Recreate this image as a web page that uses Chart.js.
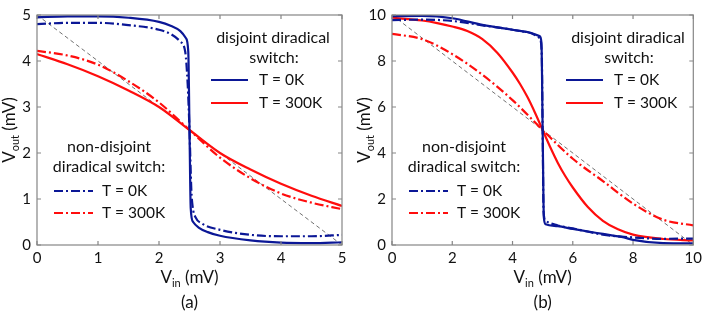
<!DOCTYPE html>
<html>
<head>
<meta charset="utf-8">
<script src="https://cdn.jsdelivr.net/npm/chart.js@4/dist/chart.umd.min.js"></script>
<style>
  body { margin: 0; background: #fff; }
  #wrap { position: relative; width: 706px; height: 314px; }
  .cell { position: absolute; top: 0; width: 353px; height: 314px; }
</style>
</head>
<body>
<div id="wrap">
  <div class="cell" style="left:0"><canvas id="chartA" width="353" height="314"></canvas></div>
  <div class="cell" style="left:353px"><canvas id="chartB" width="353" height="314"></canvas></div>
</div>
<script>
// ---- panel (a): 5 mV supply ----
const A_TICKS = [0, 1, 2, 3, 4, 5];
const A_DIS0_X = [0, 0.5, 1, 1.5, 2, 2.2, 2.35, 2.44, 2.48, 2.5, 2.52, 2.56, 2.65, 2.8, 3, 3.5, 4, 4.5, 5];
const A_DIS0_Y = [4.95, 4.97, 4.97, 4.94, 4.85, 4.76, 4.65, 4.5, 4.2, 2.5, 0.8, 0.5, 0.38, 0.28, 0.2, 0.1, 0.05, 0.04, 0.06];
const A_DIS300_X = [0, 0.5, 1, 1.5, 2, 2.5, 3, 3.5, 4, 4.5, 5];
const A_DIS300_Y = [4.15, 3.93, 3.67, 3.36, 3.0, 2.5, 2.0, 1.64, 1.33, 1.07, 0.85];
const A_NON0_X = [0, 0.5, 1, 1.5, 2, 2.2, 2.35, 2.43, 2.47, 2.5, 2.53, 2.55, 2.6, 2.7, 3, 3.5, 4, 4.5, 5];
const A_NON0_Y = [4.8, 4.83, 4.83, 4.78, 4.68, 4.58, 4.42, 4.2, 3.5, 2.5, 1.2, 0.85, 0.6, 0.47, 0.33, 0.22, 0.19, 0.19, 0.22];
const A_NON300_X = [0, 0.5, 1, 1.5, 2, 2.5, 3, 3.5, 4, 4.5, 5];
const A_NON300_Y = [4.22, 4.12, 3.92, 3.56, 3.1, 2.5, 1.9, 1.45, 1.12, 0.92, 0.78];
const A_GUIDE_X = [0, 5];
const A_GUIDE_Y = [5, 0];

// ---- panel (b): 10 mV supply ----
const B_TICKS = [0, 2, 4, 6, 8, 10];
const B_DIS0_X = [0, 1, 2, 3, 4, 4.5, 4.9, 4.96, 5, 5.04, 5.1, 5.5, 6, 7, 7.7, 8, 9, 10];
const B_DIS0_Y = [9.95, 9.96, 9.86, 9.57, 9.36, 9.26, 9.08, 8.8, 5, 1.2, 0.9, 0.82, 0.7, 0.48, 0.33, 0.22, 0.08, 0.07];
const B_DIS300_X = [0, 1, 1.5, 2, 2.5, 3, 3.5, 4, 4.25, 4.5, 4.75, 5, 5.25, 5.5, 5.75, 6, 6.5, 7, 7.5, 8, 9, 10];
const B_DIS300_Y = [9.88, 9.76, 9.65, 9.5, 9.3, 8.95, 8.35, 7.5, 7.0, 6.42, 5.74, 5, 4.26, 3.58, 3.0, 2.5, 1.65, 1.05, 0.68, 0.45, 0.26, 0.2];
const B_NON0_X = [0, 1, 2, 3, 4, 4.5, 4.9, 4.97, 5, 5.03, 5.1, 5.5, 6, 7, 8, 9, 10];
const B_NON0_Y = [9.78, 9.8, 9.74, 9.55, 9.36, 9.25, 9.0, 8.3, 5, 1.45, 1.05, 0.85, 0.72, 0.45, 0.33, 0.27, 0.28];
const B_NON300_X = [0, 1, 2, 3, 4, 5, 6, 7, 8, 9, 10];
const B_NON300_Y = [9.18, 8.95, 8.3, 7.4, 6.3, 5, 3.75, 2.78, 1.8, 1.1, 0.85];
const B_GUIDE_X = [0, 10];
const B_GUIDE_Y = [10, 0];

// ---- shared text ----
const LEGEND_TOP = ['disjoint diradical', 'switch:'];
const LEGEND_BOTTOM = ['non-disjoint', 'diradical switch:'];
const LEGEND_LABELS = ['T = 0K', 'T = 300K'];
const X_TITLE = ['V', 'in', ' (mV)'];
const Y_TITLE = ['V', 'out', ' (mV)'];

const BLUE = '#0b1796';
const RED = '#ff0d0d';
const INK = '#111';
const FONT = 'Lato, "Open Sans", sans-serif';
const DASH_DOT = [9, 3, 2, 3];

/**
 * zip two arrays into {x, y} points
 */
function zip (xs, ys) {
  return xs.map((x, i) => ({ x, y: ys[i] }));
}

function curve (xs, ys, color, dash, order) {
  return {
    data: zip(xs, ys),
    borderColor: color,
    borderWidth: 2.2,
    borderDash: dash,
    pointRadius: 0,
    cubicInterpolationMode: 'monotone',
    fill: false,
    order
  };
}

/**
 * draws "V" + subscript + rest centred at (cx, cy)
 */
function drawSubLabel (ctx, parts, cx, cy, rotate) {
  const big = '17px ' + FONT;
  const small = '11px ' + FONT;
  ctx.save();
  ctx.translate(cx, cy);
  if (rotate) ctx.rotate(-Math.PI / 2);
  ctx.fillStyle = INK;
  ctx.textBaseline = 'middle';
  ctx.textAlign = 'left';
  ctx.font = big;
  const w1 = ctx.measureText(parts[0]).width;
  const w3 = ctx.measureText(parts[2]).width;
  ctx.font = small;
  const w2 = ctx.measureText(parts[1]).width;
  let x = -(w1 + w2 + w3) / 2;
  ctx.font = big; ctx.fillText(parts[0], x, 0); x += w1;
  ctx.font = small; ctx.fillText(parts[1], x, 5); x += w2;
  ctx.font = big; ctx.fillText(parts[2], x, 0);
  ctx.restore();
}

function legendLine (ctx, x1, x2, y, color, dash) {
  ctx.save();
  ctx.strokeStyle = color;
  ctx.lineWidth = 2.2;
  ctx.setLineDash(dash);
  ctx.beginPath();
  ctx.moveTo(x1, y);
  ctx.lineTo(x2, y);
  ctx.stroke();
  ctx.restore();
}

// frame, inward ticks, titles and the in-plot legends
const decorPlugin = {
  id: 'decor',
  afterDraw (chart, args, opts) {
    const { ctx, chartArea: a, scales } = chart;
    ctx.save();

    // box
    ctx.strokeStyle = '#858585';
    ctx.lineWidth = 1.2;
    ctx.strokeRect(a.left, a.top, a.right - a.left, a.bottom - a.top);

    // inward ticks on all four sides
    ctx.beginPath();
    scales.x.ticks.forEach(t => {
      const px = scales.x.getPixelForValue(t.value);
      ctx.moveTo(px, a.bottom); ctx.lineTo(px, a.bottom - 4);
      ctx.moveTo(px, a.top); ctx.lineTo(px, a.top + 4);
    });
    scales.y.ticks.forEach(t => {
      const py = scales.y.getPixelForValue(t.value);
      ctx.moveTo(a.left, py); ctx.lineTo(a.left + 4, py);
      ctx.moveTo(a.right, py); ctx.lineTo(a.right - 4, py);
    });
    ctx.stroke();

    // axis titles + caption
    const cx = (a.left + a.right) / 2;
    drawSubLabel(ctx, X_TITLE, cx, 278, false);
    drawSubLabel(ctx, Y_TITLE, a.left - 27, (a.top + a.bottom) / 2, true);
    ctx.fillStyle = INK;
    ctx.font = '17px ' + FONT;
    ctx.textAlign = 'center';
    ctx.textBaseline = 'middle';
    ctx.fillText(opts.caption, cx, 303);

    // legends
    ctx.font = '16px ' + FONT;
    const up = a.left + 236;
    ctx.fillText(LEGEND_TOP[0], up, 38);
    ctx.fillText(LEGEND_TOP[1], up + 1, 58);
    const low = a.left + 72;
    ctx.fillText(LEGEND_BOTTOM[0], low, 147);
    ctx.fillText(LEGEND_BOTTOM[1], low, 167);
    legendLine(ctx, a.left + 174, a.left + 211, 80, BLUE, []);
    legendLine(ctx, a.left + 174, a.left + 211, 103, RED, []);
    legendLine(ctx, a.left + 17, a.left + 56, 191, BLUE, DASH_DOT);
    legendLine(ctx, a.left + 17, a.left + 56, 213, RED, DASH_DOT);

    ctx.font = '15.5px ' + FONT;
    ctx.textAlign = 'left';
    ctx.fillText(LEGEND_LABELS[0], a.left + 222, 80);
    ctx.fillText(LEGEND_LABELS[1], a.left + 222, 103);
    ctx.fillText(LEGEND_LABELS[0], a.left + 65, 191);
    ctx.fillText(LEGEND_LABELS[1], a.left + 65, 213);

    ctx.restore();
  }
};

function makeChart (canvas, cfg) {
  const tickFont = { family: FONT, size: 15 };
  const noGrid = { display: false, drawTicks: false, tickLength: 0 };
  return new Chart(canvas, {
    type: 'line',
    data: {
      datasets: [
        curve(cfg.dis0[0], cfg.dis0[1], BLUE, [], 1),
        curve(cfg.non0[0], cfg.non0[1], BLUE, DASH_DOT, 2),
        curve(cfg.dis300[0], cfg.dis300[1], RED, [], 3),
        curve(cfg.non300[0], cfg.non300[1], RED, DASH_DOT, 4),
        {
          data: zip(cfg.guide[0], cfg.guide[1]),
          borderColor: '#333',
          borderWidth: 0.7,
          borderDash: [4, 3],
          pointRadius: 0,
          order: 5
        }
      ]
    },
    options: {
      responsive: false,
      animation: false,
      events: [],
      layout: { padding: { top: 10, right: cfg.padRight, bottom: 0, left: 0 } },
      plugins: {
        legend: { display: false },
        tooltip: { enabled: false },
        decor: { caption: cfg.caption }
      },
      scales: {
        x: {
          type: 'linear',
          min: 0,
          max: cfg.max,
          afterBuildTicks: s => { s.ticks = cfg.ticks.map(v => ({ value: v })); },
          ticks: { font: tickFont, color: INK, padding: 4, maxRotation: 0 },
          grid: noGrid,
          border: { display: false },
          afterFit: s => { s.height = 69; }
        },
        y: {
          type: 'linear',
          min: 0,
          max: cfg.max,
          afterBuildTicks: s => { s.ticks = cfg.ticks.map(v => ({ value: v })); },
          ticks: { font: tickFont, color: INK, padding: 6 },
          grid: noGrid,
          border: { display: false },
          afterFit: s => { s.width = cfg.yWidth; }
        }
      }
    },
    plugins: [decorPlugin]
  });
}

makeChart(document.getElementById('chartA'), {
  caption: '(a)',
  max: 5,
  ticks: A_TICKS,
  yWidth: 37,
  padRight: 11,
  dis0: [A_DIS0_X, A_DIS0_Y],
  non0: [A_NON0_X, A_NON0_Y],
  dis300: [A_DIS300_X, A_DIS300_Y],
  non300: [A_NON300_X, A_NON300_Y],
  guide: [A_GUIDE_X, A_GUIDE_Y]
});

makeChart(document.getElementById('chartB'), {
  caption: '(b)',
  max: 10,
  ticks: B_TICKS,
  yWidth: 39,
  padRight: 8,
  dis0: [B_DIS0_X, B_DIS0_Y],
  non0: [B_NON0_X, B_NON0_Y],
  dis300: [B_DIS300_X, B_DIS300_Y],
  non300: [B_NON300_X, B_NON300_Y],
  guide: [B_GUIDE_X, B_GUIDE_Y]
});
</script>
</body>
</html>
